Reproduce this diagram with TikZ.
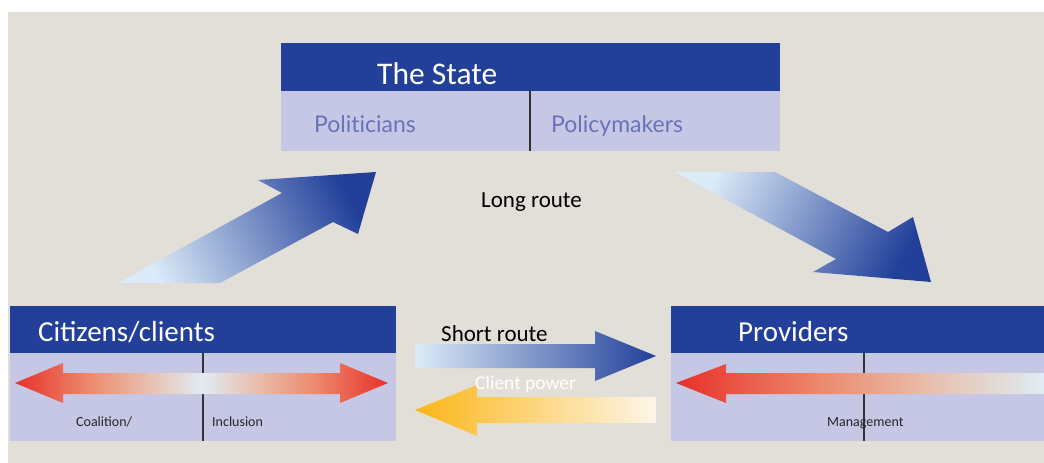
\documentclass[tikz,border=0pt]{standalone}
\usepackage{fontspec}
\setmainfont{Carlito}
\newfontfamily\gillfont[Ligatures=NoCommon]{Lato}
\definecolor{pagebg}{HTML}{E2DED8}
\definecolor{headblue}{HTML}{22409A}
\definecolor{bodylav}{HTML}{C5C7E4}
\definecolor{roletext}{HTML}{6B72B8}
\definecolor{arrowred}{HTML}{E8302A}
\definecolor{coral}{HTML}{EC8B6E}
\definecolor{peach}{HTML}{E8C0AF}
\definecolor{paleice}{HTML}{E0ECF3}
\definecolor{paleblue}{HTML}{DCEBF8}
\definecolor{amber}{HTML}{FBB617}
\definecolor{cream}{HTML}{FEF6E8}
% warm fades: red through coral and peach to a pale ice tone
\pgfdeclarehorizontalshading{redtopale}{100bp}{
  color(0bp)=(arrowred); color(25bp)=(arrowred); color(45bp)=(coral);
  color(60bp)=(peach); color(75bp)=(paleice); color(100bp)=(paleice)}
\pgfdeclarehorizontalshading{redpalered}{100bp}{
  color(0bp)=(arrowred); color(25bp)=(arrowred); color(35bp)=(coral);
  color(43bp)=(peach); color(50bp)=(paleice); color(57bp)=(peach);
  color(65bp)=(coral); color(75bp)=(arrowred); color(100bp)=(arrowred)}
\begin{document}
\begin{tikzpicture}[x=1pt,y=-1pt,
  headbox/.style={fill=headblue,draw=none,anchor=north west,inner sep=0pt},
  bodybox/.style={fill=bodylav,draw=none,anchor=north west,inner sep=0pt},
  divider/.style={draw=black!80,line width=1.2pt},
  label/.style={anchor=base west,inner sep=0pt},
  headtext/.style={label,text=white,font=\fontsize{29}{34}\selectfont},
  routetext/.style={label,text=black,font=\fontsize{23}{27}\selectfont},
  roletxt/.style={label,text=roletext,font=\gillfont\fontsize{23}{27}\selectfont},
  smalltext/.style={label,text=black!85,font=\fontsize{14}{17}\selectfont}]
\useasboundingbox (0,0) rectangle (1044,463);
\fill[white] (0,0) rectangle (1044,463);
\fill[pagebg] (8,12) rectangle (1044,463);

% The State
\node[headbox,minimum width=499pt,minimum height=48pt] (stateH) at (281,43) {};
\node[bodybox,minimum width=499pt,minimum height=60pt] (stateB) at (281,91) {};
\draw[divider] (stateB.north west -| 530,0) -- (stateB.south west -| 530,0);
\node[headtext,font=\fontsize{31.5}{36}\selectfont] (stateT) at (377,84) {The State};
\node[roletxt] (pol) at (314,132) {Politicians};
\node[roletxt] (pmk) at (551,132) {Policymakers};

% Citizens/clients
\node[headbox,minimum width=386pt,minimum height=47pt] (citH) at (10,306) {};
\node[bodybox,minimum width=386pt,minimum height=88pt] (citB) at (10,353) {};
\draw[divider] (citB.north west -| 203,0) -- (citB.south west -| 203,0);
\node[headtext] (citT) at (38,341) {Citizens/clients};

% Providers
\node[headbox,minimum width=373pt,minimum height=47pt] (provH) at (671,306) {};
\node[bodybox,minimum width=373pt,minimum height=88pt] (provB) at (671,353) {};
\draw[divider] (provB.north west -| 864,0) -- (provB.south west -| 864,0);
\node[headtext] (provT) at (738,341) {Providers};

% two-headed arrow inside the citizens box
\shade[shading=redpalered]
  (15,383) -- (63,363) -- (63,373) -- (340,373) -- (340,363) -- (388,383)
  -- (340,403) -- (340,394) -- (63,394) -- (63,403) -- cycle;
\node[smalltext] (coal) at (76,426) {Coalition/};
\node[smalltext] (incl) at (212,426) {Inclusion};

% arrow inside the providers box
\begin{scope}
\clip (0,0) rectangle (1044,463);
\shade[shading=redtopale]
  (676,383) -- (726,364) -- (726,373) -- (1044,373) -- (1044,394)
  -- (726,394) -- (726,403) -- cycle;
\end{scope}
\node[smalltext] (mgmt) at (827,426) {Management};

% long route arrows
\shade[top color=headblue,bottom color=paleblue,shading angle=-62]
  (118,283) -- (220,283) -- (333,222) -- (358,234) -- (376,172)
  -- (258,180) -- (282,193) -- cycle;
\shade[top color=headblue,bottom color=paleblue,shading angle=-118]
  (675,172) -- (775,172) -- (888,232) -- (913,217) -- (931,282)
  -- (813,272) -- (836,259) -- cycle;
\node[routetext] (long) at (481,207) {Long route};

% short route and client power
\shade[left color=paleblue,right color=headblue]
  (415,344) -- (595,344) -- (595,331) -- (656,356) -- (595,381)
  -- (595,368) -- (415,368) -- cycle;
\node[routetext] (short) at (441,341) {Short route};
\shade[left color=amber,right color=cream]
  (415,410) -- (477,385) -- (477,397) -- (656,397) -- (656,423)
  -- (477,423) -- (477,436) -- cycle;
\node[label,text=white,font=\fontsize{19.5}{23}\selectfont] (power) at (475,389) {Client power};
\end{tikzpicture}
\end{document}
